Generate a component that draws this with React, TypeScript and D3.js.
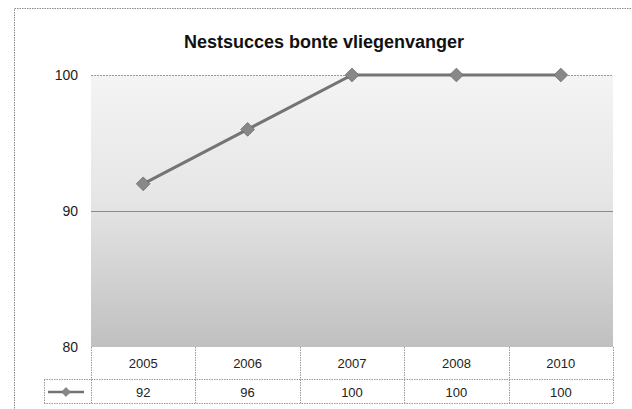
import React, { useRef, useEffect } from 'react';
import * as d3 from 'd3';

const years = ['2005', '2006', '2007', '2008', '2010'];
const nestSuccess = [92, 96, 100, 100, 100];
const yTicks = [80, 90, 100];
const title = 'Nestsucces bonte vliegenvanger';

const App = () => {
  const svgRef = useRef<SVGSVGElement | null>(null);

  useEffect(() => {
    const width = 632;
    const height = 409;
    const plot = { left: 91, right: 613, top: 75, bottom: 347 };
    const rowH = 28; // hoogte van een tabelrij
    const font = 'Liberation Sans, Arial, sans-serif';

    const svg = d3.select(svgRef.current)
      .attr('width', width)
      .attr('height', height);
    svg.selectAll('*').remove();

    svg.append('rect')
      .attr('width', width).attr('height', height)
      .attr('fill', '#ffffff');

    // buitenrand van de grafiek
    svg.append('rect')
      .attr('x', 14.5).attr('y', 8.5)
      .attr('width', 640).attr('height', 420)
      .attr('fill', 'none')
      .attr('stroke', '#8a8a8a')
      .attr('stroke-dasharray', '1.5 1');

    const x = d3.scaleBand().domain(years).range([plot.left, plot.right]);
    const y = d3.scaleLinear().domain([80, 100]).range([plot.bottom, plot.top]);

    // achtergrond met verloop
    const defs = svg.append('defs');
    const grad = defs.append('linearGradient')
      .attr('id', 'bg').attr('x1', 0).attr('y1', 0).attr('x2', 0).attr('y2', 1);
    grad.append('stop').attr('offset', '0%').attr('stop-color', '#f4f4f4');
    grad.append('stop').attr('offset', '45%').attr('stop-color', '#e6e6e6');
    grad.append('stop').attr('offset', '100%').attr('stop-color', '#c0c0c0');

    svg.append('rect')
      .attr('x', plot.left).attr('y', plot.top)
      .attr('width', plot.right - plot.left)
      .attr('height', plot.bottom - plot.top)
      .attr('fill', 'url(#bg)');

    // rasterlijnen
    yTicks.filter(t => t > 80).forEach(t => {
      svg.append('line')
        .attr('x1', plot.left).attr('x2', plot.right)
        .attr('y1', y(t) + 0.5).attr('y2', y(t) + 0.5)
        .attr('stroke', t === 100 ? '#9a9a9a' : '#8c8c8c')
        .attr('stroke-width', 1)
        .attr('stroke-dasharray', t === 100 ? '2 1' : null);
    });

    // y-as labels
    svg.selectAll('.ylab')
      .data(yTicks)
      .enter().append('text')
      .attr('class', 'ylab')
      .attr('x', 78)
      .attr('y', d => y(d))
      .attr('dy', '0.35em')
      .attr('text-anchor', 'end')
      .style('font-family', font)
      .style('font-size', '14px')
      .attr('fill', '#222')
      .text(d => d);

    // titel
    svg.append('text')
      .attr('x', 324).attr('y', 48)
      .attr('text-anchor', 'middle')
      .style('font-family', font)
      .style('font-size', '18px')
      .style('font-weight', '700')
      .attr('fill', '#111')
      .text(title);

    // lijn
    const pts = years.map((yr, i) => [x(yr)! + x.bandwidth() / 2, y(nestSuccess[i])] as [number, number]);
    svg.append('path')
      .attr('d', d3.line()(pts))
      .attr('fill', 'none')
      .attr('stroke', '#747474')
      .attr('stroke-width', 3);

    const diamond = d3.symbol().type(d3.symbolDiamond2).size(120);
    svg.selectAll('.mark')
      .data(pts)
      .enter().append('path')
      .attr('class', 'mark')
      .attr('transform', d => `translate(${d[0]},${d[1]})`)
      .attr('d', diamond)
      .attr('fill', '#888888')
      .attr('stroke', '#6a6a6a')
      .attr('stroke-width', 0.8);

    // datatabel
    const tableTop = plot.bottom;
    const keyLeft = 44;
    const gridColor = '#9c9c9c';
    const dash = '1.5 1';

    const tline = (x1: number, y1: number, x2: number, y2: number) =>
      svg.append('line')
        .attr('x1', x1).attr('y1', y1).attr('x2', x2).attr('y2', y2)
        .attr('stroke', gridColor)
        .attr('stroke-dasharray', dash);

    // horizontale lijnen
    tline(keyLeft, tableTop + rowH + 4.5, plot.right, tableTop + rowH + 4.5);
    tline(keyLeft, tableTop + 2 * rowH + 0.5, plot.right, tableTop + 2 * rowH + 0.5);
    // verticale lijnen
    tline(keyLeft + 0.5, tableTop + rowH + 4.5, keyLeft + 0.5, tableTop + 2 * rowH + 0.5);
    years.forEach(yr => {
      const bx = Math.round(x(yr)!) + 0.5;
      tline(bx, tableTop, bx, tableTop + 2 * rowH);
    });
    tline(plot.right + 0.5, tableTop, plot.right + 0.5, tableTop + 2 * rowH);

    svg.selectAll('.year')
      .data(years)
      .enter().append('text')
      .attr('class', 'year')
      .attr('x', d => x(d)! + x.bandwidth() / 2)
      .attr('y', tableTop + 16)
      .attr('dy', '0.35em')
      .attr('text-anchor', 'middle')
      .style('font-family', font)
      .style('font-size', '13px')
      .attr('fill', '#222')
      .text(d => d);

    svg.selectAll('.val')
      .data(nestSuccess)
      .enter().append('text')
      .attr('class', 'val')
      .attr('x', (d, i) => x(years[i])! + x.bandwidth() / 2)
      .attr('y', tableTop + 45)
      .attr('dy', '0.35em')
      .attr('text-anchor', 'middle')
      .style('font-family', font)
      .style('font-size', '13px')
      .attr('fill', '#222')
      .text(d => d);

    // legendasleutel
    const ky = tableTop + 45;
    svg.append('line')
      .attr('x1', 48).attr('x2', 84)
      .attr('y1', ky).attr('y2', ky)
      .attr('stroke', '#747474')
      .attr('stroke-width', 2.5);
    svg.append('path')
      .attr('transform', `translate(66,${ky})`)
      .attr('d', d3.symbol().type(d3.symbolDiamond2).size(50))
      .attr('fill', '#888888')
      .attr('stroke', '#6a6a6a')
      .attr('stroke-width', 0.6);
  }, []);

  return (
    <svg ref={svgRef} style={{ position: 'absolute', left: 0, top: 0, display: 'block' }}></svg>
  );
};

export default App;
